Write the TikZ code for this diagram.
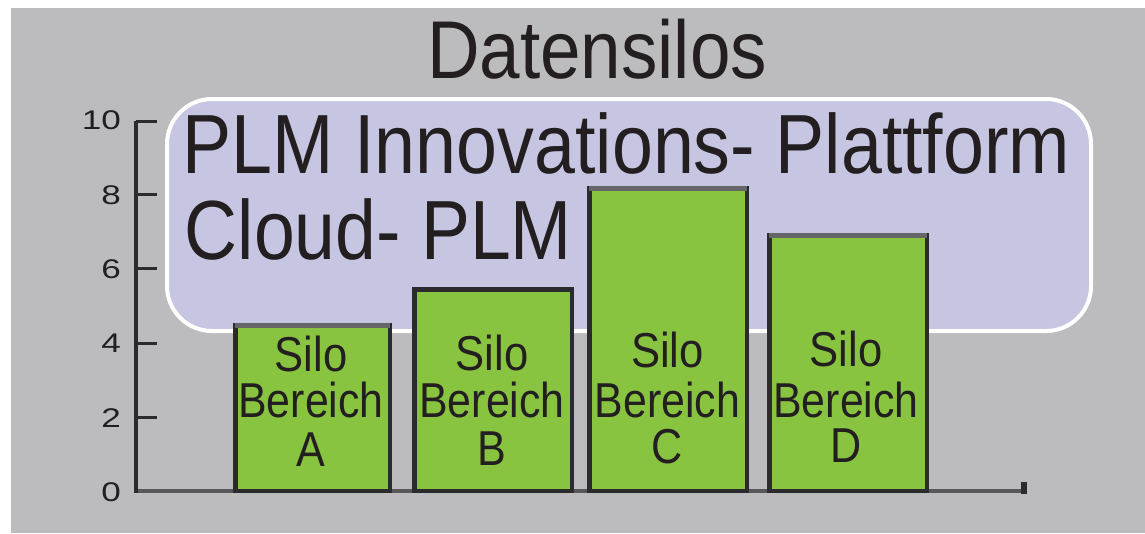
\documentclass[tikz,border=0pt]{standalone}
\usepackage{fontspec}
\setmainfont{Liberation Sans}
\usepackage{graphicx}
\definecolor{bggray}{HTML}{BCBCBE}
\definecolor{panelfill}{HTML}{C6C6E2}
\definecolor{bargreen}{HTML}{88C440}
\definecolor{barline}{HTML}{2B2B2D}
\definecolor{bartop}{HTML}{66666A}
\definecolor{axisline}{HTML}{2B2B2D}
\definecolor{baseline}{HTML}{58585A}
\definecolor{ink}{HTML}{231F20}
\tikzset{
  panel/.style={draw=white, fill=panelfill, line width=4pt, rounded corners=45pt, inner sep=0pt},
  barbox/.style={draw=barline, fill=bargreen, line width=4.5pt, inner sep=0pt, anchor=south},
  topedge/.style={draw=bartop, line width=4.5pt},
  txt/.style={inner sep=0pt, text=ink, anchor=base},
  digit/.style={inner sep=0pt, text=ink, anchor=east, font=\fontsize{27}{27}\selectfont},
  axisstroke/.style={draw=axisline, line width=4pt},
  tickstroke/.style={draw=axisline, line width=3pt},
}
\newcommand{\hsc}[2]{\scalebox{#1}[1]{#2}}
\begin{document}
\begin{tikzpicture}[x=1pt,y=-1pt]
\useasboundingbox (0,0) rectangle (1145,533);
\fill[white] (0,0) rectangle (1145,533);
\fill[bggray] (11,8) rectangle (1145,533);

% title
\node[txt, font=\fontsize{82}{82}\selectfont] (title) at (597,78) {\hsc{0.888}{Datensilos}};

% panel
\node[panel, anchor=north west, minimum width=924pt, minimum height=232pt] (panel) at (165,97) {};
\node[txt, font=\fontsize{84}{84}\selectfont] (line1) at (626.5,173) {\hsc{0.876}{PLM Innovations- Plattform}};
\node[txt, font=\fontsize{84}{84}\selectfont] (line2) at (378.5,259) {\hsc{0.873}{Cloud- PLM}};

% axis
\coordinate (ytop) at (136,121);
\coordinate (ybot) at (136,493);
\coordinate (xend) at (1025,491);
\coordinate (xstart) at (134,491);
\coordinate (endtop) at (1024,482);
\coordinate (endbot) at (1024,494);
\draw[draw=baseline, line width=4pt] (xstart) -- (xend);
\draw[axisstroke] (ytop) -- (ybot);
\draw[draw=axisline, line width=6pt] (endtop) -- (endbot);
\foreach \v/\yy in {10/121,8/194,6/268,4/343,2/417} {
  \coordinate (t\v) at (136,\yy);
  \coordinate (te\v) at (157,\yy);
  \draw[tickstroke] (t\v) -- (te\v);
}
\foreach \v/\yy in {10/120,8/195,6/269,4/343,2/418,0/492} {
  \node[digit] (n\v) at (121,\yy) {\hsc{1.3}{\v}};
}

% bars
\node[barbox, minimum width=154.5pt, minimum height=165.5pt] (barA) at (312.5,493) {};
\node[barbox, minimum width=157.5pt, minimum height=201.5pt] (barB) at (493,493) {};
\node[barbox, minimum width=157.5pt, minimum height=302.5pt] (barC) at (668,493) {};
\node[barbox, minimum width=157.5pt, minimum height=255.5pt] (barD) at (848,493) {};
\foreach \b in {barA,barC,barD} {
  \draw[topedge] ([xshift=2.25pt,yshift=-2.25pt]\b.north west) -- ([xshift=-2.25pt,yshift=-2.25pt]\b.north east);
}

% bar labels
\foreach \n/\cx/\ya/\yb/\yc in {A/311/371/417/466, B/492/370/417/465, C/667.5/367/417/463, D/846/366/417/462} {
  \node[txt, font=\fontsize{49}{49}\selectfont] (s\n) at (\cx,\ya) {\hsc{0.89}{Silo}};
  \node[txt, font=\fontsize{49}{49}\selectfont] (b\n) at (\cx,\yb) {\hsc{0.875}{Bereich}};
  \node[txt, font=\fontsize{49}{49}\selectfont] (l\n) at (\cx,\yc) {\hsc{0.88}{\n}};
}
\end{tikzpicture}
\end{document}
